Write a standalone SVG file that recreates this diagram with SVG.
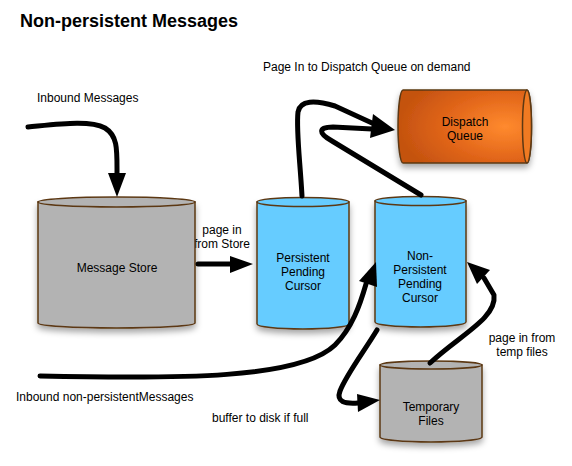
<svg xmlns="http://www.w3.org/2000/svg" width="572" height="466" viewBox="0 0 572 466">
<defs>
<style>
text{font-family:"Liberation Sans",Arial,sans-serif;font-size:12px;fill:#000}
.title{font-size:18px;font-weight:bold}
.mid{text-anchor:middle}
.cyl{stroke:#5c3813;stroke-width:1.5}
.gray{fill:#b3b3b3}
.blue{fill:#66ccff}
.conn{fill:none;stroke:#000;stroke-width:5;stroke-linecap:round;stroke-linejoin:round}
.head{fill:#000}
</style>
<filter id="sh" x="-20%" y="-20%" width="140%" height="150%">
<feDropShadow dx="0" dy="4" stdDeviation="3" flood-color="#000" flood-opacity="0.35"/>
</filter>
<radialGradient id="org" cx="0.8" cy="0.5" r="0.8" fx="0.8" fy="0.5">
<stop offset="0" stop-color="#ff8a2e"/>
<stop offset="0.55" stop-color="#e2661a"/>
<stop offset="1" stop-color="#c4520f"/>
</radialGradient>
</defs>
<rect width="572" height="466" fill="#fff"/>
<text class="title" x="20" y="27">Non-persistent Messages</text>
<text x="263" y="71">Page In to Dispatch Queue on demand</text>
<text x="37" y="102">Inbound Messages</text>
<text class="mid" x="222" y="234">page in</text>
<text class="mid" x="222" y="248">from Store</text>
<text x="16" y="401">Inbound non-persistentMessages</text>
<text x="212" y="422">buffer to disk if full</text>
<text class="mid" x="522" y="342">page in from</text>
<text class="mid" x="522" y="356">temp files</text>

<g id="message-store">
<path class="cyl gray" filter="url(#sh)" d="M38,202 L38,323 A78.5,5 0 0 0 195,323 L195,202 Z"/>
<ellipse class="cyl gray" cx="116.5" cy="202" rx="78.5" ry="5"/>
<text class="mid" x="117" y="272">Message Store</text>
</g>
<g id="persistent-cursor">
<path class="cyl blue" filter="url(#sh)" d="M257,202 L257,324 A46,5 0 0 0 349,324 L349,202 Z"/>
<ellipse class="cyl blue" cx="303" cy="202" rx="46" ry="4.5"/>
<text class="mid" x="303" y="262">Persistent</text>
<text class="mid" x="303" y="276">Pending</text>
<text class="mid" x="303" y="290">Cursor</text>
</g>
<g id="non-persistent-cursor">
<path class="cyl blue" filter="url(#sh)" d="M375,201 L375,322 A45.5,5 0 0 0 466,322 L466,201 Z"/>
<ellipse class="cyl blue" cx="420.5" cy="201" rx="45.5" ry="4.5"/>
<text class="mid" x="420" y="260">Non-</text>
<text class="mid" x="420" y="274">Persistent</text>
<text class="mid" x="420" y="288">Pending</text>
<text class="mid" x="420" y="302">Cursor</text>
</g>
<g id="temporary-files">
<path class="cyl gray" filter="url(#sh)" d="M380,365 L380,437 A51,5 0 0 0 482,437 L482,365 Z"/>
<ellipse class="cyl gray" cx="431" cy="365" rx="51" ry="4"/>
<text class="mid" x="431" y="411">Temporary</text>
<text class="mid" x="431" y="425">Files</text>
</g>
<g id="dispatch-queue">
<path class="cyl" fill="url(#org)" filter="url(#sh)" d="M403,90 L527,90 A4.5,36.5 0 0 1 527,163 L403,163 A5,36.5 0 0 1 403,90 Z"/>
<ellipse class="cyl" fill="#f07a22" cx="527" cy="126.5" rx="4.5" ry="36.5"/>
<text class="mid" x="465" y="126">Dispatch</text>
<text class="mid" x="465" y="140">Queue</text>
</g>

<g id="connectors">
<path class="conn" d="M28,127 C60,124 90,120 105,128 C118,136 117,150 117,174"/>
<polygon class="head" points="108,173 126,173 117,197"/>
<path class="conn" d="M198,264 L231,264"/>
<polygon class="head" points="230,256 230,273 253,264"/>
<path class="conn" d="M302,196 C300,160 296,130 298,112 C300,100 315,100 335,106 L372,123"/>
<path class="conn" d="M421,195 L332,141 C318,133 318,127 333,127 L372,129"/>
<polygon class="head" points="373,114 370,138 395,130"/>
<path class="conn" d="M40,376 C180,379 300,379 335,345 C352,328 360,305 366,284"/>
<polygon class="head" points="359,281 377,287 376,262"/>
<path class="conn" d="M377,330 C365,350 346,375 340,391 C336,402 345,404 358,403"/>
<polygon class="head" points="357,394 358,412 380,400"/>
<path class="conn" d="M430,363 C460,335 497,318 494,295 L484,278"/>
<polygon class="head" points="490,270 477,284 467,262"/>
</g>
</svg>
